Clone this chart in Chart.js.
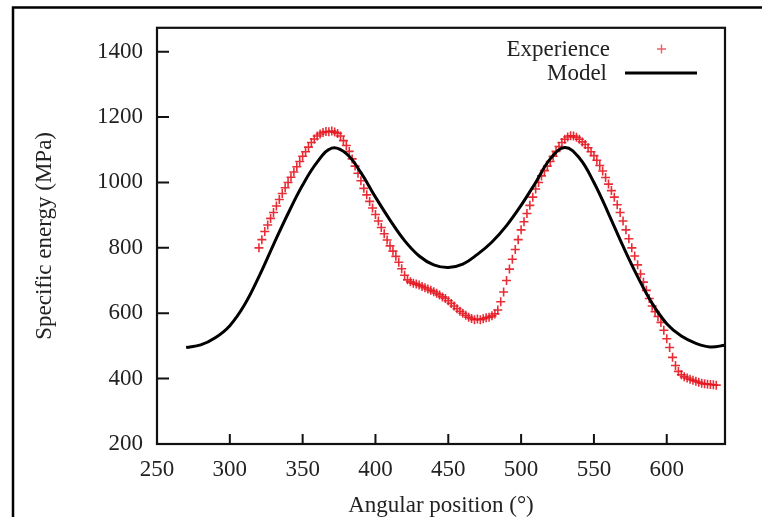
<!DOCTYPE html>
<html><head><meta charset="utf-8">
<script src="https://cdn.jsdelivr.net/npm/chart.js@4"></script>
<style>html,body{margin:0;padding:0;background:#fff}#wrap{width:762px;height:517px;position:relative}canvas{display:block}</style>
</head><body><div id="wrap"><canvas id="c" width="762" height="517"></canvas></div>
<script>
const expX = [320,322,324,326,328,330,332,334,336,338,340,342,344,346,348,350,352,354,356,358,360,362,364,366,368,370,372,374,376,378,380,382,384,386,388,390,392,394,396,398,400,402,404,406,408,410,412,414,416,418,420,422,424,426,428,430,432,434,436,438,440,442,444,446,448,450,452,454,456,458,460,462,464,466,468,470,472,474,476,478,480,482,484,486,488,490,492,494,496,498,500,502,504,506,508,510,512,514,516,518,520,522,524,526,528,530,532,534,536,538,540,542,544,546,548,550,552,554,556,558,560,562,564,566,568,570,572,574,576,578,580,582,584,586,588,590,592,594,596,598,600,602,604,606,608,610,612,614,616,618,620,622,624,626,628,630,632,634];
const expY = [800,825,850,870,890,908,928,948,966,984,1000,1016,1032,1048,1064,1080,1094,1108,1122,1133,1142,1148,1153,1156,1155,1157,1154,1150,1142,1128,1113,1095,1072,1050,1028,1005,982,962,942,922,902,882,862,843,824,806,790,774,756,736,716,702,696,692,689,686,682,678,674,670,666,661,656,650,645,638,630,622,614,606,600,594,588,584,580,582,580,583,586,588,592,598,610,635,665,700,735,765,795,825,855,880,905,930,955,980,1000,1020,1036,1050,1064,1080,1095,1110,1122,1132,1139,1143,1142,1138,1132,1124,1116,1106,1094,1082,1068,1052,1035,1015,995,975,955,932,908,882,855,828,800,775,748,720,695,670,645,622,605,590,572,548,522,495,465,440,422,412,406,402,398,395,392,389,386,384,383,382,381,380];
const modelX = [270,280,290,300,310,320,330,340,350,360,370,380,390,400,410,420,430,440,450,460,470,480,490,500,510,520,530,540,550,560,570,580,590,600,610,620,630,640];
const modelY = [495,503,525,562,625,712,810,905,992,1062,1105,1088,1030,955,885,822,775,748,740,750,780,818,868,930,1000,1072,1107,1075,1000,905,805,712,630,568,530,508,497,502];
const xTicks = [250,300,350,400,450,500,550,600];
const yTicks = [200,400,600,800,1000,1200,1400];
const seriesNames = ['Experience','Model'];
const xTitle = 'Angular position (°)';
const yTitle = 'Specific energy (MPa)';

const FONT = "'Liberation Serif','DejaVu Serif',serif";
const TXT = '#222';
const RED = 'rgba(230,22,32,0.9)';

const decor = {
  id: 'decor',
  beforeDraw(chart) {
    const ctx = chart.ctx;
    ctx.save();
    ctx.fillStyle = '#fff';
    ctx.fillRect(0, 0, chart.width, chart.height);
    ctx.strokeStyle = '#000';
    ctx.lineWidth = 2.5;
    ctx.beginPath();
    ctx.moveTo(12, 7.5); ctx.lineTo(chart.width, 7.5);
    ctx.moveTo(13, 6.5); ctx.lineTo(13, chart.height);
    ctx.stroke();
    ctx.restore();
  },
  afterDraw(chart) {
    const ctx = chart.ctx;
    const a = chart.chartArea;
    const xs = chart.scales.x, ys = chart.scales.y;
    ctx.save();
    ctx.strokeStyle = '#111';
    ctx.lineWidth = 2.2;
    ctx.strokeRect(a.left, a.top, a.right - a.left, a.bottom - a.top);
    ctx.lineWidth = 2;
    ctx.beginPath();
    xs.ticks.forEach(t => { const p = xs.getPixelForValue(t.value); ctx.moveTo(p, a.bottom); ctx.lineTo(p, a.bottom - 10); });
    ys.ticks.forEach(t => { const p = ys.getPixelForValue(t.value); ctx.moveTo(a.left, p); ctx.lineTo(a.left + 12, p); });
    ctx.stroke();
    // legend
    const ds = chart.data.datasets;
    ctx.font = "23px " + FONT;
    ctx.fillStyle = TXT;
    ctx.textAlign = 'right';
    ctx.textBaseline = 'middle';
    ctx.fillText(ds[0].label, 610, 50);
    ctx.fillText(ds[1].label, 607, 74);
    ctx.strokeStyle = 'rgba(228,40,50,0.75)';
    ctx.lineWidth = 1.4;
    ctx.beginPath();
    ctx.moveTo(657, 49); ctx.lineTo(666, 49);
    ctx.moveTo(661.5, 44.5); ctx.lineTo(661.5, 53.5);
    ctx.stroke();
    ctx.strokeStyle = '#000';
    ctx.lineWidth = 3;
    ctx.beginPath();
    ctx.moveTo(625, 73); ctx.lineTo(697, 73);
    ctx.stroke();
    ctx.restore();
  }
};

new Chart(document.getElementById('c'), {
  type: 'scatter',
  data: {
    datasets: [
      {
        label: seriesNames[0],
        data: expX.map((x, i) => ({x, y: expY[i]})),
        showLine: false,
        pointStyle: 'cross',
        pointRadius: 4.5,
        pointBorderWidth: 1.6,
        pointBorderColor: RED,
        pointBackgroundColor: RED,
        order: 2
      },
      {
        label: seriesNames[1],
        data: modelX.map((x, i) => ({x, y: modelY[i]})),
        showLine: true,
        borderColor: '#000',
        borderWidth: 3,
        pointRadius: 0,
        tension: 0.4,
        fill: false,
        order: 1
      }
    ]
  },
  options: {
    responsive: false,
    animation: false,
    devicePixelRatio: 1,
    layout: { padding: { left: 0, top: 25, right: 37, bottom: 0 } },
    plugins: { legend: { display: false }, tooltip: { enabled: false } },
    scales: {
      x: {
        type: 'linear', position: 'bottom', min: 250, max: 640,
        grid: { display: false, drawTicks: false },
        border: { display: false },
        afterBuildTicks: s => { s.ticks = xTicks.map(v => ({value: v})); },
        afterFit: s => { s.height = 73; },
        ticks: { color: TXT, font: { family: FONT, size: 23, lineHeight: 1.2 }, padding: 12, maxRotation: 0, autoSkip: false, callback: v => String(v) },
        title: { display: true, text: xTitle, color: TXT, font: { family: FONT, size: 23, lineHeight: 1 }, padding: { top: 0, bottom: 0 } }
      },
      y: {
        type: 'linear', position: 'left', min: 200, max: 1473,
        grid: { display: false, drawTicks: false },
        border: { display: false },
        afterBuildTicks: s => { s.ticks = yTicks.map(v => ({value: v})); },
        afterFit: s => { s.width = 157; },
        ticks: { color: TXT, font: { family: FONT, size: 23 }, padding: 14, autoSkip: false, callback: v => String(v) },
        title: { display: true, text: yTitle, color: TXT, font: { family: FONT, size: 23, lineHeight: 1 }, padding: { top: 33, bottom: 0 } }
      }
    }
  },
  plugins: [decor]
});
</script>
</body></html>
